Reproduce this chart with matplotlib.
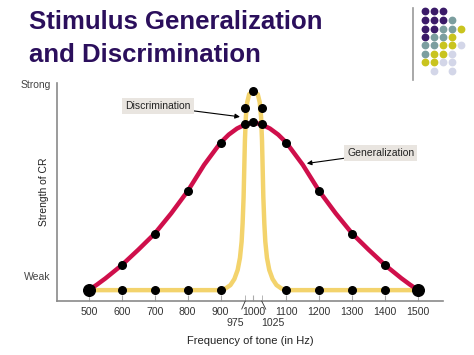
import numpy as np
import matplotlib.pyplot as plt

plt.rcParams['font.family'] = ['Liberation Sans', 'DejaVu Sans']

# measured points (dots)
freq = [500, 600, 700, 800, 900, 975, 1000, 1025, 1100, 1200, 1300, 1400, 1500]
gen_pts = [0, 0.124, 0.28, 0.49, 0.73, 0.82, 0.83, 0.82, 0.73, 0.49, 0.28, 0.124, 0]
disc_pts = [0, 0, 0, 0, 0, 0.90, 0.985, 0.90, 0, 0, 0, 0, 0]

# curve traces
gen_x = [500, 525, 550, 600, 650, 700, 750, 800, 850, 900, 925, 950, 975, 1000,
         1025, 1050, 1075, 1100, 1150, 1200, 1250, 1300, 1350, 1400, 1450, 1475, 1500]
gen_y = [0, 0.028, 0.058, 0.124, 0.20, 0.28, 0.38, 0.49, 0.62, 0.73, 0.77, 0.80, 0.82, 0.83,
         0.82, 0.80, 0.77, 0.73, 0.62, 0.49, 0.38, 0.28, 0.20, 0.124, 0.058, 0.028, 0]
disc_x = [500, 900, 915, 930, 942, 952, 959, 964, 967, 970, 972, 974, 977, 981, 987, 1000,
          1013, 1019, 1023, 1026, 1028, 1030, 1033, 1036, 1041, 1048, 1058, 1070, 1085, 1100, 1500]
disc_y = [0, 0, 0.008, 0.025, 0.055, 0.10, 0.16, 0.24, 0.33, 0.46, 0.60, 0.74, 0.86, 0.93, 0.97, 0.985,
          0.97, 0.93, 0.86, 0.74, 0.60, 0.46, 0.33, 0.24, 0.16, 0.10, 0.055, 0.025, 0.008, 0, 0]

major_ticks = [500, 600, 700, 800, 900, 1000, 1100, 1200, 1300, 1400, 1500]
minor_ticks = [975, 1025]

red = '#cf0f4b'
yellow = '#f3d36c'
purple = '#2b0f5c'

fig = plt.figure(figsize=(4.74, 3.55), dpi=100)
ax = fig.add_axes([0.1203, 0.152, 0.8143, 0.614])

ax.plot(disc_x, disc_y, color=yellow, lw=3.2, solid_joinstyle='round', solid_capstyle='round', zorder=2)
ax.plot(gen_x, gen_y, color=red, lw=3.2, solid_joinstyle='round', solid_capstyle='round', zorder=3)
ax.scatter(freq, gen_pts, s=30, color='black', zorder=4)
ax.scatter(freq, disc_pts, s=30, color='black', zorder=4)
ax.scatter([freq[0], freq[-1]], [gen_pts[0], gen_pts[-1]], s=70, color='black', zorder=5)

ax.set_xlim(403, 1576)
ax.set_ylim(-0.054, 1.025)
for s in ['top', 'right']:
    ax.spines[s].set_visible(False)
for s in ['left', 'bottom']:
    ax.spines[s].set_color('#8a8a8a')
    ax.spines[s].set_linewidth(1.2)

ax.set_yticks([])
ax.set_xticks(major_ticks)
ax.set_xticklabels([str(t) for t in major_ticks], fontsize=7.6, color='#333333')
ax.set_xticks(minor_ticks, minor=True)
ax.tick_params(axis='x', which='both', direction='in', length=4, color='#aaaaaa', pad=4)

for f, dx in zip(minor_ticks, [-7, 8]):
    ax.annotate(str(f), xy=(f, 0), xycoords=('data', 'axes fraction'),
                xytext=(dx, -16), textcoords='offset points', ha='center', va='center',
                fontsize=7.6, color='#333333',
                arrowprops=dict(arrowstyle='-', color='#333333', lw=0.6, shrinkA=5, shrinkB=0))

ax.set_xlabel('Frequency of tone (in Hz)', fontsize=8, color='#222222', labelpad=14)
ax.text(-0.016, 0.99, 'Strong', transform=ax.transAxes, ha='right', va='center', fontsize=7.5, color='#444444')
ax.text(-0.016, 0.11, 'Weak', transform=ax.transAxes, ha='right', va='center', fontsize=7.5, color='#444444')
ax.text(-0.035, 0.5, 'Strength of CR', transform=ax.transAxes, ha='center', va='center',
        rotation=90, fontsize=7.5, color='#222222')

box = dict(boxstyle='square,pad=0.3', fc='#e9e5e0', ec='none')
ax.annotate('Discrimination', xy=(959, 0.858), xytext=(709, 0.91), fontsize=7.5, color='#222222',
            ha='center', va='center', bbox=box,
            arrowprops=dict(arrowstyle='-|>', color='black', lw=0.8, mutation_scale=7, shrinkA=0, shrinkB=0))
ax.annotate('Generalization', xy=(1162, 0.627), xytext=(1387, 0.678), fontsize=7.5, color='#222222',
            ha='center', va='center', bbox=box,
            arrowprops=dict(arrowstyle='-|>', color='black', lw=0.8, mutation_scale=7, shrinkA=0, shrinkB=0))

# title
fig.text(0.061, 1 - 22 / 355, 'Stimulus Generalization', fontsize=18.5, fontweight='bold',
         color=purple, va='center', ha='left')
fig.text(0.061, 1 - 55 / 355, 'and Discrimination', fontsize=18.5, fontweight='bold',
         color=purple, va='center', ha='left')

# decoration in the top right corner
fig.add_artist(plt.Line2D([413 / 474, 413 / 474], [1 - 8 / 355, 1 - 80 / 355], color='#999999', lw=1.2))
pattern = ['PPP..', 'PPPT.', 'PPTTY', 'PTTY.', 'TTYYL', 'TYYL.', 'YYLL.', '.L.L.']
dot_colors = {'P': '#3a1a68', 'T': '#7b9e9f', 'Y': '#c9c41f', 'L': '#d3d6e8'}
col_px = [425, 434, 443, 452, 461]
row_px = [11, 20, 28.5, 37, 45, 53.5, 62, 71]
for r, row in enumerate(pattern):
    for c, ch in enumerate(row):
        if ch in dot_colors:
            fig.add_artist(plt.Line2D([col_px[c] / 474], [1 - row_px[r] / 355], marker='o',
                                      markersize=4.6, color=dot_colors[ch], lw=0))

fig.savefig('out.png', dpi=100)
